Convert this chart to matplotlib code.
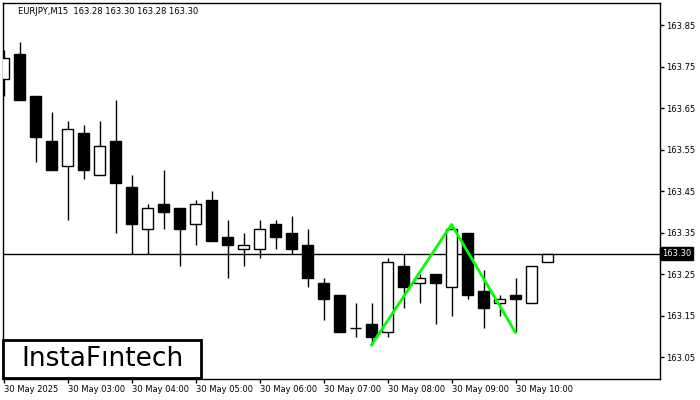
import matplotlib.pyplot as plt
from matplotlib.patches import Rectangle

# EURJPY M15 candles
opens = [163.72, 163.78, 163.68, 163.57, 163.51, 163.59, 163.49, 163.57, 163.46, 163.36,
         163.42, 163.41, 163.37, 163.43, 163.34, 163.31, 163.31, 163.37, 163.35, 163.32,
         163.23, 163.20, 163.12, 163.13, 163.11, 163.27, 163.23, 163.25, 163.22, 163.35,
         163.21, 163.18, 163.20, 163.18, 163.28]
highs = [163.79, 163.81, 163.68, 163.64, 163.62, 163.61, 163.62, 163.67, 163.49, 163.42,
         163.50, 163.41, 163.43, 163.45, 163.38, 163.35, 163.38, 163.38, 163.39, 163.36,
         163.24, 163.20, 163.18, 163.18, 163.29, 163.30, 163.25, 163.25, 163.37, 163.35,
         163.26, 163.20, 163.24, 163.27, 163.30]
lows = [163.68, 163.67, 163.52, 163.50, 163.38, 163.48, 163.49, 163.35, 163.30, 163.30,
        163.36, 163.27, 163.32, 163.33, 163.24, 163.27, 163.29, 163.31, 163.30, 163.22,
        163.14, 163.11, 163.10, 163.08, 163.10, 163.17, 163.18, 163.13, 163.15, 163.19,
        163.12, 163.15, 163.11, 163.18, 163.28]
closes = [163.77, 163.67, 163.58, 163.50, 163.60, 163.50, 163.56, 163.47, 163.37, 163.41,
          163.40, 163.36, 163.42, 163.33, 163.32, 163.32, 163.36, 163.34, 163.31, 163.24,
          163.19, 163.11, 163.12, 163.10, 163.28, 163.22, 163.24, 163.23, 163.36, 163.20,
          163.17, 163.19, 163.19, 163.27, 163.30]

# double top pattern
pattern_idx = [23, 28, 32]
pattern_price = [163.08, 163.37, 163.11]

bid = 163.30
y_ticks = [163.05, 163.15, 163.25, 163.35, 163.45, 163.55, 163.65, 163.75, 163.85]
x_tick_idx = [0, 4, 8, 12, 16, 20, 24, 28, 32]
x_tick_labels = ['30 May 2025', '30 May 03:00', '30 May 04:00', '30 May 05:00',
                 '30 May 06:00', '30 May 07:00', '30 May 08:00', '30 May 09:00',
                 '30 May 10:00']
title = 'EURJPY,M15  163.28 163.30 163.28 163.30'

fig = plt.figure(figsize=(7, 4), dpi=100)
ax = fig.add_axes([2.5 / 700, 1 - 379 / 400, 657 / 700, 376.3 / 400])

n = len(opens)
xs = list(range(n))

# wicks
ax.vlines(xs, lows, highs, color='black', lw=1, zorder=2)

# bodies
for i in xs:
    o, c = opens[i], closes[i]
    face = 'white' if c >= o else 'black'
    ax.bar(i, abs(c - o), bottom=min(o, c), width=0.66, color=face,
           edgecolor='black', linewidth=1, zorder=3)

ax.axhline(bid, color='black', lw=1, zorder=1)
ax.plot(pattern_idx, pattern_price, color='#00ff00', lw=2, zorder=4)

ax.set_xlim(-0.0625, 41.0)
ax.set_ylim(162.998, 163.904)

ax.yaxis.tick_right()
ax.set_yticks(y_ticks)
ax.set_yticklabels([f'{v:.2f}' for v in y_ticks])
ax.set_xticks(x_tick_idx)
ax.set_xticklabels(x_tick_labels, ha='left')
ax.tick_params(axis='both', length=3, width=1, labelsize=6, pad=2, colors='black')
for lbl in ax.get_xticklabels():
    lbl.set_x(0)
ax.tick_params(axis='x', pad=1)
for lbl in ax.get_xticklabels():
    lbl.set_horizontalalignment('left')

for s in ax.spines.values():
    s.set_linewidth(1)
    s.set_color('black')

# current price label
ax.text(1.004, bid, f'{bid:.2f}', transform=ax.get_yaxis_transform(),
        fontsize=6, color='white', va='center', ha='left', clip_on=False,
        bbox=dict(boxstyle='square,pad=0.2', facecolor='black', edgecolor='black'))

fig.text(18 / 700, 1 - 12 / 400, title, fontsize=6, va='center', ha='left')

# logo
fig.patches.append(Rectangle((3 / 700, 1 - 378 / 400), 198 / 700, 38 / 400,
                             transform=fig.transFigure, facecolor='white',
                             edgecolor='black', linewidth=2, zorder=5))
fig.text(102 / 700, 1 - 359 / 400, 'InstaF\u0131ntech', fontsize=19,
         ha='center', va='center', zorder=6)

fig.savefig('out.png', dpi=100)
